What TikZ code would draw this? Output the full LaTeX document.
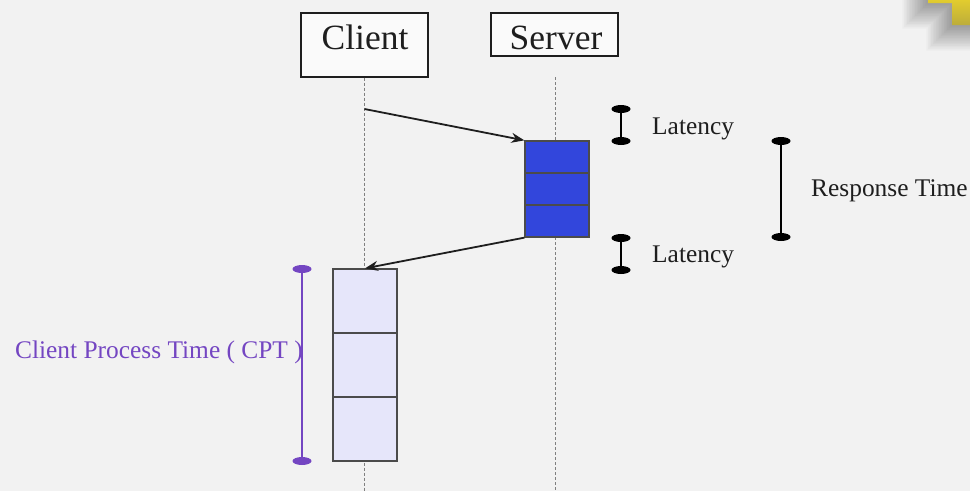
\documentclass[tikz,border=0pt]{standalone}
\usepackage{fontspec}
\setmainfont{Liberation Serif}
\usetikzlibrary{arrows.meta,shapes.geometric,positioning}
\definecolor{bgcol}{HTML}{F2F2F2}
\definecolor{srvblue}{HTML}{3246DC}
\definecolor{clilav}{HTML}{E6E6FA}
\definecolor{cptpurple}{HTML}{7446C2}
\definecolor{inkcol}{HTML}{1E1E1E}
\definecolor{goldcol}{HTML}{E2CC2E}
\tikzset{
  actor/.style={draw=inkcol, line width=1.3pt, fill=white!60!bgcol, minimum width=127pt, inner sep=0pt},
  actortext/.style={font=\fontsize{35.5}{38}\selectfont, text=inkcol, inner sep=0pt},
  lifeline/.style={draw=gray, line width=0.9pt, dash pattern=on 3pt off 2pt},
  slot/.style={draw=inkcol!80, line width=1.3pt, minimum width=64pt, inner sep=0pt},
  srvslot/.style={slot, fill=srvblue, minimum height=32pt},
  clislot/.style={slot, fill=clilav, minimum height=64pt},
  msg/.style={draw=inkcol, line width=1.8pt, -{Stealth[length=13pt,width=10pt]}},
  cap/.style={ellipse, fill=#1, minimum width=19pt, minimum height=8pt, inner sep=0pt},
  cap/.default=black,
  bar/.style={line width=2.8pt},
  lbl/.style={font=\fontsize{25.4}{28}\selectfont, text=inkcol, inner sep=0pt},
}
\begin{document}
\begin{tikzpicture}[x=1pt,y=-1pt]
\useasboundingbox (0,0) rectangle (970,491);
\fill[bgcol] (0,0) rectangle (970,491);

% gold tab in the corner with its soft shadow
\foreach \i in {1,...,16}{
  \fill[black, opacity=0.022]
    (928-1.6*\i,0) -- (928-1.6*\i,3+1.6*\i) -- (952-1.6*\i,3+1.6*\i) -- (952-1.6*\i,25+1.6*\i) -- (970,25+1.6*\i) -- (970,0) -- cycle;
}
\shade[top color=goldcol, bottom color=goldcol!80!black!90]
  (928,0) -- (928,3) -- (952,3) -- (952,25) -- (970,25) -- (970,0) -- cycle;

% actors
\node[actor, minimum height=64pt] (client) at (364.5,45) {};
\node[actortext] (clienttxt) at (365,37) {Client};
\node[actor, minimum height=43pt] (server) at (554.5,34.5) {};
\node[actortext] (servertxt) at (556,38) {Server};

% lifelines
\coordinate (cliend) at (364.5,491);
\coordinate (srvtop) at (555,77);
\coordinate (srvend) at (555,491);
\draw[lifeline] (client.south) -- (cliend);
\draw[lifeline] (srvtop) -- (srvend);

% server processing
\node[srvslot] (s1) at (557,157) {};
\node[srvslot] (s2) at (557,189) {};
\node[srvslot] (s3) at (557,221) {};

% client processing
\node[clislot] (c1) at (365,301) {};
\node[clislot] (c2) at (365,365) {};
\node[clislot] (c3) at (365,429) {};

% messages
\coordinate (req) at (364.5,109);
\draw[msg] (req) -- (s1.north west);
\draw[msg] (s3.south west) -- (c1.north);

% latency markers
\node[cap] (l1a) at (621,109) {};
\node[cap] (l1b) at (621,141) {};
\draw[bar] (l1a) -- (l1b);
\node[lbl, anchor=west] (l1t) at (652,129) {Latency};

\node[cap] (l2a) at (621,238) {};
\node[cap] (l2b) at (621,270) {};
\draw[bar] (l2a) -- (l2b);
\node[lbl, anchor=west] (l2t) at (652,257) {Latency};

% response time marker
\node[cap] (r1) at (781,141) {};
\node[cap] (r2) at (781,237) {};
\draw[bar, line width=2.4pt] (r1) -- (r2);
\node[lbl, anchor=west] (rt) at (811,191) {Response Time};

% client process time marker
\node[cap=cptpurple] (p1) at (302,269) {};
\node[cap=cptpurple] (p2) at (302,461) {};
\draw[bar, cptpurple] (p1) -- (p2);
\node[lbl, anchor=east, text=cptpurple] (cpt) at (303,352) {Client Process Time ( CPT )};
\end{tikzpicture}
\end{document}
